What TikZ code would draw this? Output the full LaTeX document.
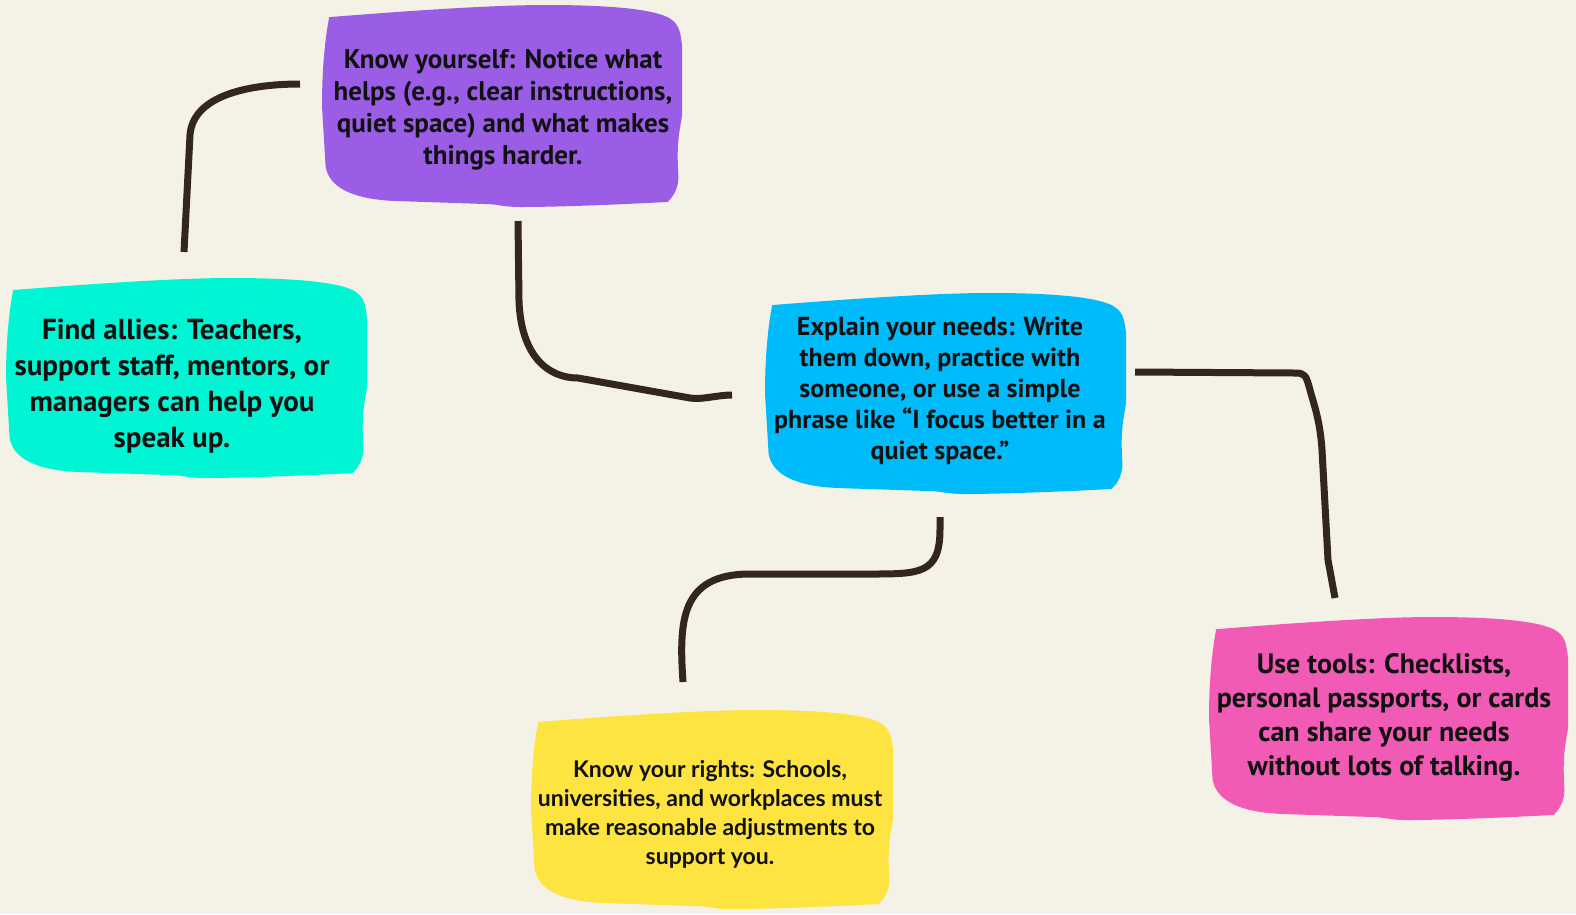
\documentclass[tikz,border=0pt]{standalone}
\usepackage{fontspec}
\setmainfont{PT Sans}
\newfontfamily\condfont{PT Sans}
\newfontfamily\widefont{Lato}
\usepackage{tikz}
\usetikzlibrary{calc}
\definecolor{paper}{HTML}{F4F2E6}
\definecolor{ink}{HTML}{111111}
\definecolor{linkc}{HTML}{33261F}
\definecolor{grape}{HTML}{9B5DE5}
\definecolor{aqua}{HTML}{00F5D4}
\definecolor{sky}{HTML}{00BBF9}
\definecolor{rose}{HTML}{F15BB5}
\definecolor{lemon}{HTML}{FEE440}
\tikzset{
  tipbox/.style={align=center,text=ink,inner sep=0pt},
  condtext/.style 2 args={tipbox,font=\condfont\bfseries\fontsize{#1}{#2}\selectfont},
  link/.style={draw=linkc,line width=7pt,line join=round},
}
% blob: left, top, right, bottom (px), colour
\newcommand{\blob}[5]{%
  \pgfmathsetmacro\blobw{#3-#1}\pgfmathsetmacro\blobh{#4-#2}%
  \begin{scope}[shift={(#1,#2)},x=\blobw pt,y=-\blobh pt]
    \fill[#5] (0.02,0.06) .. controls (0.3,0.02) and (0.5,0.0) .. (0.62,0.0)
      .. controls (0.75,0.0) and (0.9,0.01) .. (0.96,0.06)
      .. controls (0.99,0.09) and (0.995,0.12) .. (1.0,0.2) -- (1.0,0.55)
      .. controls (0.99,0.65) and (0.985,0.7) .. (0.99,0.85)
      .. controls (0.99,0.9) and (0.98,0.94) .. (0.96,0.975)
      .. controls (0.8,0.99) and (0.65,1.0) .. (0.55,1.0)
      .. controls (0.5,1.0) and (0.49,0.985) .. (0.45,0.985) -- (0.2,0.97)
      .. controls (0.08,0.96) and (0.02,0.9) .. (0.01,0.8) -- (0.0,0.5)
      .. controls (0.0,0.3) and (0.01,0.15) .. (0.02,0.06) -- cycle;
  \end{scope}}
\begin{document}
\begin{tikzpicture}[x=1pt,y=-1pt]
  % ---- Paper ----
  \fill[paper] (0,0) rectangle (1576,914);
  \useasboundingbox (0,0) rectangle (1576,914);

  % ---- Blobs ----
  \blob{322}{5}{682}{207}{grape}
  \blob{6}{278}{367}{478}{aqua}
  \blob{765}{293}{1126}{494}{sky}
  \blob{1209}{617}{1568}{820}{rose}
  \blob{531}{710}{893}{909}{lemon}

  % ---- Texts ----
  \node[condtext={27}{32}] (yourself) at (503,110)
    {Know yourself: Notice what\\helps (e.g., clear instructions,\\
     quiet space) and what makes\\things harder.};
  \node[condtext={29}{36}] (allies) at (172,386)
    {Find allies: Teachers,\\support staff, mentors, or\\
     managers can help you\\speak up.};
  \node[condtext={26}{31}] (needs) at (940,391)
    {Explain your needs: Write\\them down, practice with\\
     someone, or use a simple\\phrase like “I focus better in a\\quiet space.”};
  \node[condtext={28}{34}] (tools) at (1384,717)
    {Use tools: Checklists,\\personal passports, or cards\\
     can share your needs\\without lots of talking.};
  \node[tipbox,font=\widefont\bfseries\fontsize{23}{29}\selectfont] (rights) at (710,814)
    {Know your rights: Schools,\\universities, and workplaces must\\
     make reasonable adjustments to\\support you.};

  % ---- Connectors ----
  \draw[link] ([shift={(12,-134)}]allies.center) -- ++(6,-117)
    .. controls +(3,-40) and +(-50,0) .. ([shift={(-203,-26)}]yourself.center);
  \draw[link] ([shift={(15,111)}]yourself.center) -- ++(1,80)
    .. controls +(2,55) and +(-30,0) .. ++(59,77) -- ++(112,20)
    .. controls +(12,2) and +(-15,0) .. ([shift={(-208,4)}]needs.center);
  \draw[link] ([shift={(195,-19)}]needs.center) -- ++(160,1)
    .. controls +(10,0) and +(-4,-15) .. ++(15,17)
    .. controls +(4,15) and +(-2,-30) .. ++(12,60) -- ++(6,110)
    -- ([shift={(-49,-119)}]tools.center);
  \draw[link] ([shift={(0,126)}]needs.center) -- ++(0,12)
    .. controls +(0,45) and +(50,0) .. ++(-70,45) -- ++(-120,0)
    .. controls +(-70,0) and +(-4,-60) .. ([shift={(-27,-132)}]rights.center);
\end{tikzpicture}
\end{document}
